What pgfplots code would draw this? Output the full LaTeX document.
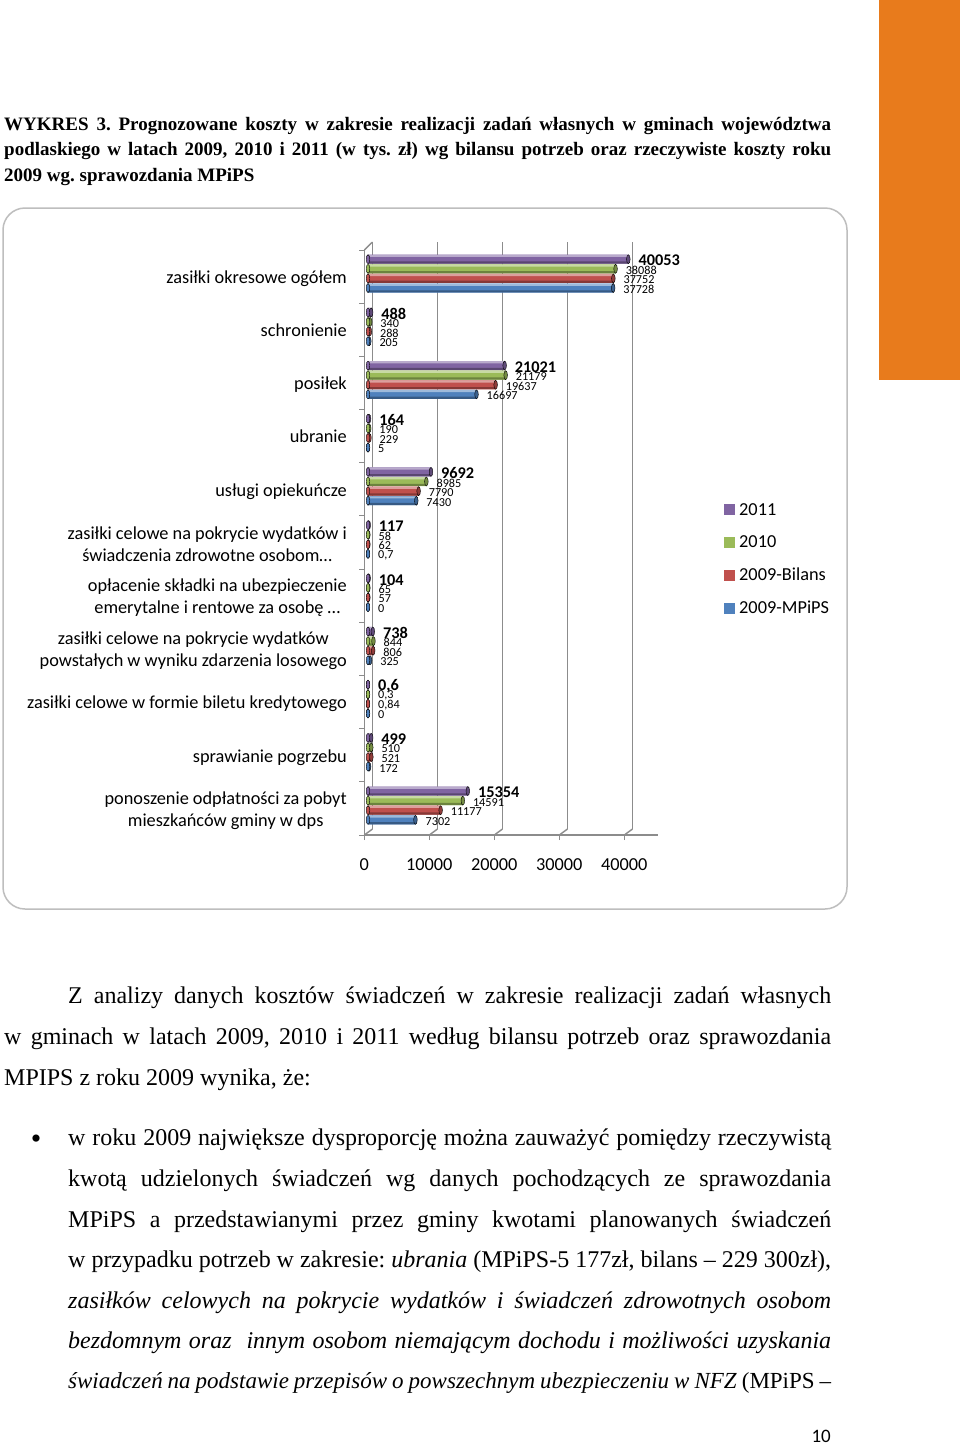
\documentclass[border=0pt]{standalone}
\usepackage{fontspec}
\setmainfont{Carlito}
\newfontfamily\serif{Liberation Serif}
\usepackage{pgfplots}
\usepackage{pgfplotstable}
\pgfplotsset{compat=1.18}

\definecolor{c2011}{HTML}{8064A2}
\definecolor{c2010}{HTML}{9BBB59}
\definecolor{cbil}{HTML}{C0504D}
\definecolor{cmp}{HTML}{4F81BD}
\definecolor{axgray}{HTML}{8C8C8C}

% one table per series: category index, value, printed label
\pgfplotstableread{
y v lab
0 40053 40053
1 488 488
2 21021 21021
3 164 164
4 9692 9692
5 117 117
6 104 104
7 738 738
8 0.6 0,6
9 499 499
10 15354 15354
}\tA
\pgfplotstableread{
y v lab
0 38088 38088
1 340 340
2 21179 21179
3 190 190
4 8985 8985
5 58 58
6 65 65
7 844 844
8 0.3 0,3
9 510 510
10 14591 14591
}\tB
\pgfplotstableread{
y v lab
0 37752 37752
1 288 288
2 19637 19637
3 229 229
4 7790 7790
5 62 62
6 57 57
7 806 806
8 0.84 0,84
9 521 521
10 11177 11177
}\tC
\pgfplotstableread{
y v lab
0 37728 37728
1 205 205
2 16697 16697
3 5 5
4 7430 7430
5 0.7 0,7
6 0 0
7 325 325
8 0 0
9 172 172
10 7302 7302
}\tD

% #1 table, #2 colour, #3 offset in category units, #4 label font, #5 legend text
\newcommand\series[5]{
  \addplot[xbar, bar width=9pt, bar shift=0pt, draw=none, fill=#2,
    legend image code/.code={\fill[#2] (0pt,-5.5pt) rectangle (11pt,5.5pt);},
    point meta=explicit symbolic, nodes near coords,
    nodes near coords align={anchor=west},
    every node near coord/.style={inner sep=0pt, xshift=10pt, yshift=-1.5pt, text=black, font=#4}]
    table[x=v, y expr=\thisrow{y}+#3, meta=lab] {#1};
  \addlegendentry{\hspace*{2pt}#5}
  % highlight and shadow stripes for the rounded look
  \addplot[forget plot, xbar, bar width=2.2pt, bar shift=0pt, draw=none, fill=#2!55!white]
    table[x=v, y expr=\thisrow{y}+#3-0.063] {#1};
  \addplot[forget plot, xbar, bar width=2.2pt, bar shift=0pt, draw=none, fill=#2!70!black]
    table[x=v, y expr=\thisrow{y}+#3+0.063] {#1};
  \addplot[forget plot, only marks, mark=*, mark size=4.5pt,
    mark options={xscale=0.4, fill=#2!75!black, draw=none}]
    table[x=v, y expr=\thisrow{y}+#3] {#1};
  \addplot[forget plot, only marks, mark=*, mark size=4.5pt,
    mark options={xscale=0.4, fill=#2, draw=none}]
    table[x expr=0, y expr=\thisrow{y}+#3] {#1};
}

\newcommand\jline[4]{\node[anchor=base west, inner sep=0pt] at (#1pt,-#2pt) {\makebox[#3pt][s]{#4}};}

\begin{document}
\begin{tikzpicture}
\path[use as bounding box, fill=white] (0pt,0pt) rectangle (960pt,-1444pt);
\fill[color={rgb,255:red,232;green,123;blue,28}] (879pt,0pt) rectangle (960pt,-380pt);
\draw[color={rgb,255:red,190;green,190;blue,190}, line width=1.5pt, rounded corners=22pt]
  (3pt,-208pt) rectangle (847pt,-909pt);

% heading
\begingroup\serif\frenchspacing\bfseries\fontsize{19}{20}\selectfont
\jline{4}{130}{827}{WYKRES 3. Prognozowane koszty w zakresie realizacji zadań własnych w gminach województwa}
\jline{4}{155}{827}{podlaskiego w latach 2009, 2010 i 2011 (w tys. zł) wg bilansu potrzeb oraz rzeczywiste koszty roku}
\node[anchor=base west, inner sep=0pt] at (4pt,-181pt) {2009 wg. sprawozdania MPiPS};
\endgroup

% back wall: gridlines
\begin{axis}[at={(372.5pt,-829pt)}, anchor=south west, scale only axis,
    width=290pt, height=587pt, xmin=0, xmax=44615, ymin=0, ymax=1,
    ytick=\empty, xtick={0,10000,20000,30000,40000}, xticklabels={}, scaled x ticks=false,
    axis line style={draw=none}, xmajorgrids, tick style={draw=none},
    grid style={axgray, line width=1.4pt}]
\end{axis}

% front axis lines, x ticks and numbers
\begin{axis}[at={(364.3pt,-835pt)}, anchor=south west, scale only axis,
    width=294pt, height=585pt, xmin=0, xmax=45230, ymin=-0.5, ymax=10.5, y dir=reverse,
    axis x line=bottom, axis y line=left, axis line style={-, axgray, line width=1.4pt},
    tick align=outside, major tick length=5pt,
    tick style={axgray, line width=1pt},
    xtick={0,10000,20000,30000,40000}, scaled x ticks=false,
    ytick={-0.5,0.5,1.5,2.5,3.5,4.5,5.5,6.5,7.5,8.5,9.5,10.5}, yticklabels={},
    /pgf/number format/assume math mode=true,
    /pgf/number format/1000 sep={},
    x tick label style={font=\fontsize{18.3}{20}\selectfont, yshift=-15pt}]
\end{axis}

% slanted joins between front axis and back wall
\foreach \xa in {0,65,130,195,260} {
  \draw[axgray, line width=1.4pt] ({364.3pt+\xa pt},-835pt) -- ({372.5pt+\xa pt},-829pt);
}
\draw[axgray, line width=1.4pt] (364.3pt,-250pt) -- (372.5pt,-242pt);

% category names
\begin{axis}[at={(364.3pt,-835pt)}, anchor=south west, scale only axis,
    width=294pt, height=585pt, xmin=0, xmax=45230, ymin=-0.5, ymax=10.5, y dir=reverse,
    axis line style={draw=none}, xtick=\empty, major tick length=0pt, tick style={draw=none},
    ytick={0,1,2,3,4,5,6,7,8,9,10},
    yticklabels={{zasiłki okresowe ogółem},{schronienie\vphantom{g}},{posiłek\vphantom{g}},{ubranie\vphantom{g}},{usługi opiekuńcze},
      {zasiłki celowe na pokrycie wydatków i\\świadczenia zdrowotne osobom…},
      {opłacenie składki na ubezpieczenie\\emerytalne i rentowe za osobę …},
      {zasiłki celowe na pokrycie wydatków\\powstałych w wyniku zdarzenia losowego},
      {zasiłki celowe w formie biletu kredytowego},{sprawianie pogrzebu},
      {ponoszenie odpłatności za pobyt\\mieszkańców gminy w dps}},
    y tick label style={font=\fontsize{18.3}{22}\selectfont, align=center, anchor=east,
      inner sep=0pt, xshift=-17.3pt, yshift=-2pt}]
\end{axis}

% bars
\begin{axis}[at={(368pt,-832pt)}, anchor=south west, scale only axis, clip=false,
    width=290pt, height=585pt, xmin=0, xmax=44615, ymin=-0.5, ymax=10.5, y dir=reverse,
    axis line style={draw=none}, xtick=\empty, ytick=\empty,
    legend cell align=left,
    legend style={at={(1.2276,0.5658)}, anchor=north west, draw=none, fill=none, inner sep=0pt,
      row sep=15pt, font=\fontsize{18.3}{20}\selectfont}]
  \series{\tA}{c2011}{-0.2708}{\bfseries\fontsize{16.3}{16}\selectfont}{2011}
  \series{\tB}{c2010}{-0.0903}{\fontsize{12.2}{12}\selectfont}{2010}
  \series{\tC}{cbil}{0.0903}{\fontsize{12.2}{12}\selectfont}{2009-Bilans}
  \series{\tD}{cmp}{0.2708}{\fontsize{12.2}{12}\selectfont}{2009-MPiPS}
\end{axis}

% page text
\begingroup\serif\frenchspacing\fontsize{24}{26}\selectfont
\jline{68}{1003}{763}{Z analizy danych kosztów świadczeń w zakresie realizacji zadań własnych}
\jline{4}{1044}{827}{w gminach w latach 2009, 2010 i 2011 według bilansu potrzeb oraz sprawozdania}
\node[anchor=base west, inner sep=0pt] at (4pt,-1085pt) {MPIPS z roku 2009 wynika, że:};
\node[anchor=base west, inner sep=0pt, font=\fontsize{30}{30}\selectfont] at (30.7pt,-1148pt) {•};
\jline{68}{1145}{763}{w roku 2009 największe dysproporcję można zauważyć pomiędzy rzeczywistą}
\jline{68}{1186}{763}{kwotą udzielonych świadczeń wg danych pochodzących ze sprawozdania}
\jline{68}{1227}{763}{MPiPS a przedstawianymi przez gminy kwotami planowanych świadczeń}
\jline{68}{1267}{763}{w przypadku potrzeb w zakresie: \textit{ubrania} (MPiPS-5 177zł, bilans – 229 300zł),}
\jline{68}{1308}{763}{\textit{zasiłków celowych na pokrycie wydatków i świadczeń zdrowotnych osobom}}
\jline{68}{1348}{763}{\textit{bezdomnym oraz \ innym osobom niemającym dochodu i możliwości uzyskania}}
\fontsize{23}{26}\selectfont
\jline{68}{1388}{763}{\textit{świadczeń na podstawie przepisów o powszechnym ubezpieczeniu w NFZ} (MPiPS –}
\endgroup
\node[anchor=base east, inner sep=0pt, font=\fontsize{19}{20}\selectfont] at (831pt,-1442pt) {10};
\end{tikzpicture}
\end{document}
